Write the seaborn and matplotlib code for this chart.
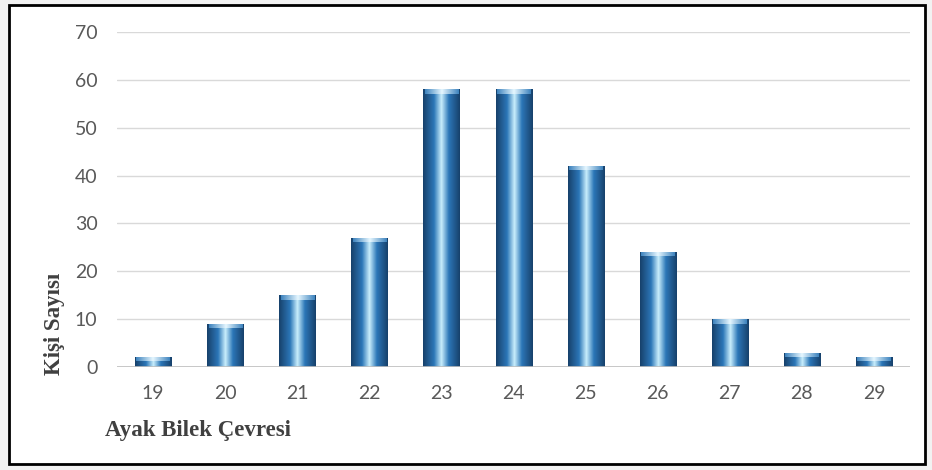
import numpy as np
import pandas as pd
import seaborn as sns
import matplotlib.pyplot as plt
from matplotlib.colors import LinearSegmentedColormap
from matplotlib.patches import Rectangle

# veriler
sizes = ["19", "20", "21", "22", "23", "24", "25", "26", "27", "28", "29"]
counts = [2, 9, 15, 27, 58, 58, 42, 24, 10, 3, 2]

df = pd.DataFrame({"size": sizes, "count": counts})

sns.set_style("white")
plt.rcParams['font.family'] = ['Lato', 'DejaVu Sans']

fig = plt.figure(figsize=(9.32, 4.70), dpi=100)
fig.patch.set_facecolor("#f2f2f2")
# beyaz çerçeve
fig.add_artist(Rectangle((0.010, 0.012), 0.982, 0.978, transform=fig.transFigure,
                         facecolor="white", edgecolor="black", linewidth=2,
                         zorder=-10))

ax = fig.add_axes([0.1255, 0.219, 0.851, 0.713])
ax.set_facecolor("none")
sns.barplot(data=df, x="size", y="count", color="#2e75b6", width=0.5, ax=ax, zorder=3)

# yatay gradyan ile silindir görünümü
cmap = LinearSegmentedColormap.from_list("cyl", [
    (0.0, "#17406a"), (0.3, "#2c77b8"), (0.5, "#c9eefc"),
    (0.7, "#2c77b8"), (1.0, "#17406a")])
cmap_top = LinearSegmentedColormap.from_list("top", [
    (0.0, "#3c82bd"), (0.5, "#e6f7ff"), (1.0, "#3c82bd")])
grad = np.linspace(0, 1, 256).reshape(1, -1)
for p in ax.patches:
    x0, y0 = p.get_x(), p.get_y()
    w, h = p.get_width(), p.get_height()
    im = ax.imshow(grad, cmap=cmap, aspect="auto", extent=[x0, x0 + w, y0, y0 + h],
                   zorder=4)
    im.set_clip_path(p)
    # üstte açık renkli eğim
    cap = min(0.9, h * 0.35)
    im2 = ax.imshow(grad, cmap=cmap_top, aspect="auto",
                    extent=[x0 + 0.02, x0 + w - 0.02, y0 + h - cap, y0 + h], zorder=4.5)
    im2.set_clip_path(p)
    p.set_edgecolor("#1a3f63")
    p.set_linewidth(0.6)

ax.set_xlim(-0.5, 10.5)
ax.set_ylim(0, 70)
ax.set_yticks(range(0, 71, 10))
ax.yaxis.grid(True, color="#d9d9d9", linewidth=1, zorder=0)
ax.axhline(0, color="#bfbfbf", linewidth=1.2, zorder=5)
for s in ax.spines.values():
    s.set_visible(False)
ax.tick_params(axis="both", length=0, labelsize=14, colors="#595959")
ax.tick_params(axis="x", pad=13)
ax.tick_params(axis="y", pad=14)
ax.set_xlabel("")
ax.set_ylabel("")

fig.text(0.059, 0.31, "Kişi Sayısı", rotation=90, ha="center", va="center",
         fontsize=16.5, fontweight="bold", family="Liberation Serif", color="#404040")
fig.text(0.113, 0.085, "Ayak Bilek Çevresi", ha="left", va="center",
         fontsize=16.5, fontweight="bold", family="Liberation Serif", color="#404040")

fig.savefig("out.png", dpi=100)
